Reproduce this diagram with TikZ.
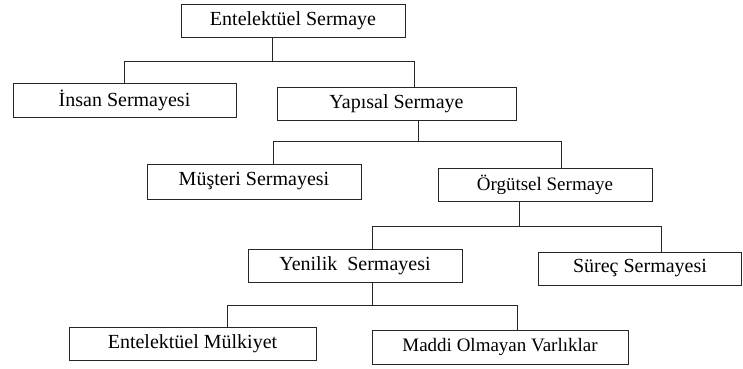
\documentclass[tikz,border=0pt]{standalone}
\usepackage{fontspec}
\setmainfont{Liberation Serif}
\usepackage{tikz}
\usetikzlibrary{positioning}

\begin{document}
\begin{tikzpicture}[
          x=1pt, y=-1pt,
          every node/.style={font=\fontsize{20}{24}\selectfont},
          kutu/.style={draw=black!85,line width=0.9pt,inner sep=0pt,minimum height=33pt},
          bag/.style={black!85,line width=0.9pt},
        ]
        \useasboundingbox (0,0) rectangle (743,368);
        % boxes
        \node[kutu,minimum width=224pt] (entel) at (293,20.5) {Entelektüel Sermaye};
        \node[kutu,minimum width=223pt,minimum height=34pt] (insan) at (124.5,100) {İnsan Sermayesi};
        \node[kutu,minimum width=239pt] (yapisal) at (396.5,103.5) {Yapısal Sermaye};
        \node[kutu,minimum width=214pt,minimum height=35pt] (musteri) at (254,181.5) {Müşteri Sermayesi};
        \node[kutu,minimum width=214pt,font=\fontsize{19}{23}\selectfont] (orgut) at (545,184.5) {Örgütsel Sermaye};
        \node[kutu,minimum width=214pt] (yenilik) at (355,265.5) {Yenilik\ \ Sermayesi};
        \node[kutu,minimum width=203pt] (surec) at (640,268.5) {Süreç Sermayesi};
        \node[kutu,minimum width=247pt] (mulkiyet) at (192.5,343.5) {Entelektüel Mülkiyet};
        \node[kutu,minimum width=256pt,minimum height=34pt,font=\fontsize{19}{23}\selectfont] (maddi) at (500,347) {Maddi Olmayan Varlıklar};
        % connectors
        \draw[bag] ([xshift=-21pt]entel.south) -- ++(0,24) coordinate (b1);
        \draw[bag] (insan.north) |- (b1) -| ([xshift=17.5pt]yapisal.north);
        \draw[bag] ([xshift=21.5pt]yapisal.south) -- ++(0,21) coordinate (b2);
        \draw[bag] ([xshift=19pt]musteri.north) |- (b2) -| ([xshift=16pt]orgut.north);
        \draw[bag] ([xshift=-26pt]orgut.south) -- ++(0,25) coordinate (b3);
        \draw[bag] ([xshift=17pt]yenilik.north) |- (b3) -| ([xshift=21pt]surec.north);
        \draw[bag] ([xshift=17pt]yenilik.south) -- ++(0,23) coordinate (b4);
        \draw[bag] ([xshift=34.5pt]mulkiyet.north) |- (b4) -| ([xshift=17pt]maddi.north);
      \end{tikzpicture}
\end{document}
